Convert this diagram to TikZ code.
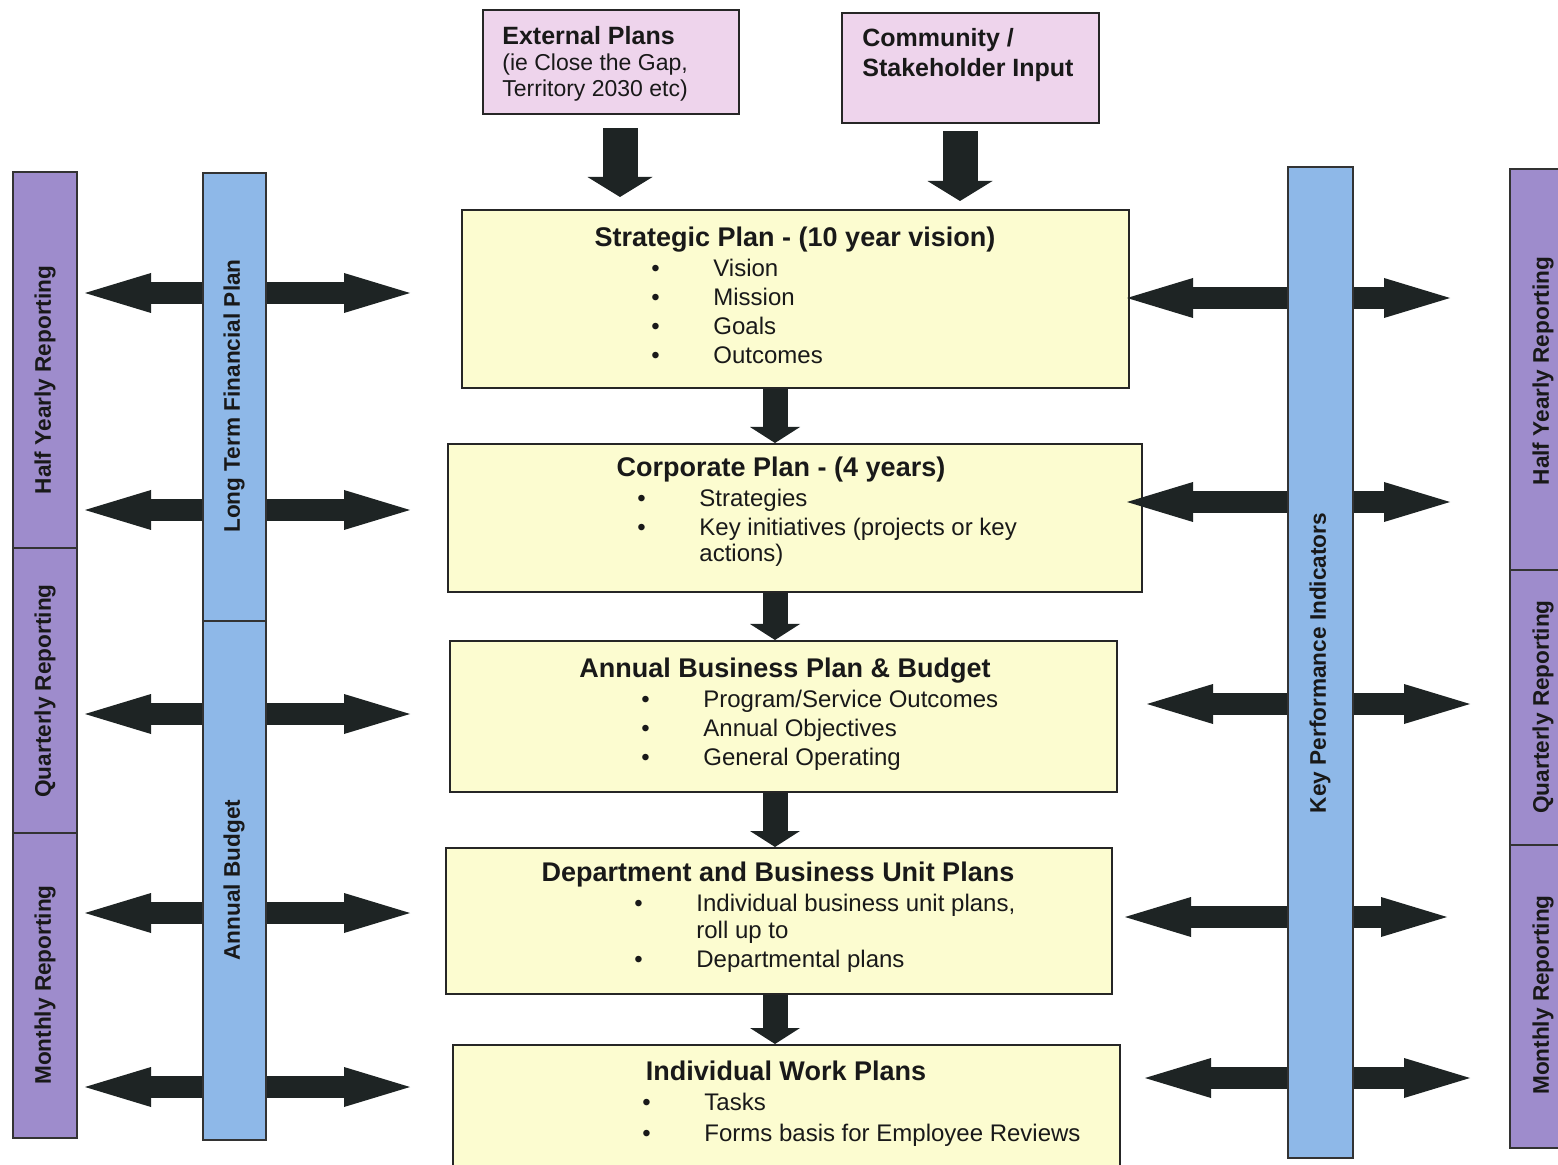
\documentclass[tikz,border=0pt]{standalone}
\usepackage{fontspec}
\setmainfont{Liberation Sans}
\usetikzlibrary{positioning, fit, arrows.meta}

\definecolor{planyellow}{RGB}{252,252,208}
\definecolor{inputpink}{RGB}{238,212,236}
\definecolor{reportpurple}{RGB}{158,140,204}
\definecolor{financeblue}{RGB}{142,184,232}
\definecolor{arrowdark}{RGB}{30,36,36}

\tikzset{
    planbox/.style = {draw=black!85, line width=1pt, fill=planyellow, inner sep=0pt},
    inputbox/.style = {draw=black!85, line width=1.2pt, fill=inputpink, inner sep=0pt},
    reportbar/.style = {draw=black!80, line width=0.6pt, fill=reportpurple, inner sep=0pt},
    financebar/.style = {draw=black!80, line width=0.6pt, fill=financeblue, inner sep=0pt},
}
\tikzset{
    bartext/.style = {rotate=90, inner sep=0pt, text=black!90, font=\bfseries\fontsize{11.3}{13}\selectfont},
    headtxt/.style = {inner sep=0pt, text=black!90, font=\bfseries\fontsize{13.5}{16}\selectfont},
    itemtxt/.style = {inner sep=0pt, text=black!90, font=\fontsize{12}{14.5}\selectfont},
    inputtxt/.style = {inner sep=0pt, align=left, text=black!90, font=\fontsize{11.5}{13}\selectfont},
    mainarrow/.style = {draw=arrowdark, line width=12.5pt, -{Triangle[length=8pt, width=25pt, line width=0pt]}},
    inarrow/.style = {draw=arrowdark, line width=17.5pt, -{Triangle[length=10pt, width=32.5pt, line width=0pt]}},
    linkarrow/.style = {draw=arrowdark, line width=11pt,
        {Triangle[length=33pt, width=20pt, line width=0pt]}-{Triangle[length=33pt, width=20pt, line width=0pt]}},
}

\begin{document}
\begin{tikzpicture}[x=0.5pt, y=-0.5pt]
    \useasboundingbox (0,0) rectangle (1558,1165);
    \clip (0,0) rectangle (1558,1165);
    \fill[white] (0,0) rectangle (1558,1165);

    % inputs at the top (base is the last line)
    \node[inputbox, fit={(483,10) (739,114)}] (ext) {};
    \node[inputtxt, anchor=base west] (extT) at (502,97)
        {{\bfseries\fontsize{12.5}{13}\selectfont External Plans}\\(ie Close the Gap,\\Territory 2030 etc)};
    \node[inputbox, fit={(842,13) (1099,123)}] (com) {};
    \node[inputtxt, anchor=base west] (comT) at (862,77)
        {{\bfseries\fontsize{12.5}{13}\selectfont Community /}\\[2pt]{\bfseries\fontsize{12.5}{13}\selectfont Stakeholder Input}};

    % planning boxes
    \node[planbox, fit={(462,210) (1129,388)}] (strat) {};
    \node[headtxt, anchor=base] (stratH) at (795,247) {Strategic Plan - (10 year vision)};
    \node[itemtxt, anchor=base west] (stratL) at (651,277) {\begin{tabular}[t]{@{}p{31pt}@{}l@{}}
        \textbullet & Vision\\ \textbullet & Mission\\ \textbullet & Goals\\ \textbullet & Outcomes\end{tabular}};

    \node[planbox, fit={(448,444) (1142,592)}] (corp) {};
    \node[headtxt, anchor=base] (corpH) at (781,477) {Corporate Plan - (4 years)};
    \node[itemtxt, anchor=base west] (corpL) at (637,507) {\begin{tabular}[t]{@{}p{31pt}@{}l@{}}
        \textbullet & Strategies\\ \textbullet & Key initiatives (projects or key\\[-1.5pt] & actions)\end{tabular}};

    \node[planbox, fit={(450,641) (1117,792)}] (annual) {};
    \node[headtxt, anchor=base] (annualH) at (785,677) {Annual Business Plan \& Budget};
    \node[itemtxt, anchor=base west] (annualL) at (641,707) {\begin{tabular}[t]{@{}p{31pt}@{}l@{}}
        \textbullet & Program/Service Outcomes\\ \textbullet & Annual Objectives\\ \textbullet & General Operating\end{tabular}};

    \node[planbox, fit={(446,848) (1112,994)}] (dept) {};
    \node[headtxt, anchor=base] (deptH) at (778,881) {Department and Business Unit Plans};
    \node[itemtxt, anchor=base west] (deptL) at (634,911) {\begin{tabular}[t]{@{}p{31pt}@{}l@{}}
        \textbullet & Individual business unit plans,\\[-1pt] & roll up to\\ \textbullet & Departmental plans\end{tabular}};

    \node[planbox, fit={(453,1045) (1120,1185)}] (indiv) {};
    \node[headtxt, anchor=base] (indivH) at (786,1080) {Individual Work Plans};
    \node[itemtxt, anchor=base west] (indivL) at (642,1110) {\begin{tabular}[t]{@{}p{31pt}@{}l@{}}
        \textbullet & Tasks\\[1pt] \textbullet & Forms basis for Employee Reviews\end{tabular}};

    % arrows down the middle
    \coordinate (spine) at (775,0);
    \coordinate (extdrop) at (620,0);
    \coordinate (comdrop) at (960,0);
    \draw[inarrow, shorten <=6.5pt, shorten >=6pt] (ext.south -| extdrop) -- (strat.north -| extdrop);
    \draw[inarrow, shorten <=3.5pt, shorten >=4pt] (com.south -| comdrop) -- (strat.north -| comdrop);
    \draw[mainarrow] (strat.south -| spine) -- (corp.north -| spine);
    \draw[mainarrow] (corp.south -| spine) -- (annual.north -| spine);
    \draw[mainarrow] (annual.south -| spine) -- (dept.north -| spine);
    \draw[mainarrow] (dept.south -| spine) -- (indiv.north -| spine);

    % two way arrows
    \foreach \y [count=\i] in {293,510,714,913,1087} {
        \coordinate (lw\i) at (85,\y);
        \coordinate (le\i) at (410,\y);
        \draw[linkarrow] (lw\i) -- (le\i);
    }
    \foreach \a/\b/\y [count=\i] in {1127/1450/298, 1127/1450/502, 1147/1470/704, 1125/1447/917, 1145/1470/1078} {
        \coordinate (rw\i) at (\a,\y);
        \coordinate (re\i) at (\b,\y);
        \draw[linkarrow] (rw\i) -- (re\i);
    }

    % reporting bars
    \node[reportbar, fit={(13,172) (77,548)}] (halfL) {};
    \node[reportbar, fit={(13,548) (77,833)}] (quartL) {};
    \node[reportbar, fit={(13,833) (77,1138)}] (monthL) {};
    \node[bartext] at (45,380) {Half Yearly Reporting};
    \node[bartext] at (45,691) {Quarterly Reporting};
    \node[bartext] at (45,985) {Monthly Reporting};

    \node[reportbar, fit={(1510,169) (1574,570)}] (halfR) {};
    \node[reportbar, fit={(1510,570) (1574,845)}] (quartR) {};
    \node[reportbar, fit={(1510,845) (1574,1148)}] (monthR) {};
    \node[bartext] at (1543,371) {Half Yearly Reporting};
    \node[bartext] at (1543,707) {Quarterly Reporting};
    \node[bartext] at (1543,995) {Monthly Reporting};

    % finance and kpi bars, over the arrows
    \node[financebar, fit={(203,173) (266,621)}] (ltfp) {};
    \node[financebar, fit={(203,621) (266,1140)}] (budget) {};
    \node[bartext] at (234,396) {Long Term Financial Plan};
    \node[bartext] at (234,880) {Annual Budget};

    \node[financebar, fit={(1288,167) (1353,1158)}] (kpi) {};
    \node[bartext] at (1320,663) {Key Performance Indicators};
\end{tikzpicture}
\end{document}
